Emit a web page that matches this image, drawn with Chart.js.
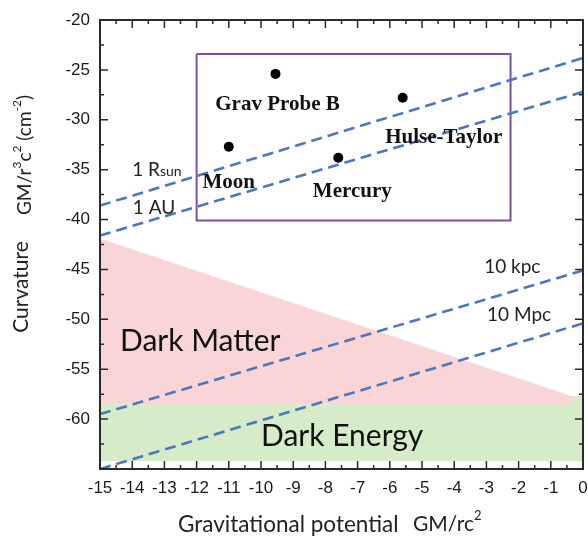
<!DOCTYPE html>
<html>
<head>
<meta charset="utf-8">
<script src="https://cdn.jsdelivr.net/npm/chart.js@4/dist/chart.umd.min.js"></script>
<style>
  html, body { margin: 0; padding: 0; background: #ffffff; }
  #wrap { width: 588px; height: 540px; }
</style>
</head>
<body>
<div id="wrap"><canvas id="chart" width="588" height="540"></canvas></div>
<script>
// Axis ticks
const xTickValues = [-15, -14, -13, -12, -11, -10, -9, -8, -7, -6, -5, -4, -3, -2, -1, 0];
const yTickValues = [-20, -25, -30, -35, -40, -45, -50, -55, -60];

// Experimental tests: gravitational potential vs curvature
const probeNames = ['Grav Probe B', 'Moon', 'Mercury', 'Hulse-Taylor'];
const probePotential = [-9.55, -11.0, -7.6, -5.6];
const probeCurvature = [-25.4, -32.7, -33.8, -27.8];

// Constant-radius lines, curvature at potential -15 and at 0
const scaleNames = ['1 R', '1 AU', '10 kpc', '10 Mpc'];
const scaleCurvatureLeft = [-38.6, -41.6, -59.5, -65.0];
const scaleCurvatureRight = [-23.8, -27.2, -45.1, -50.4];

// Dark matter region: upper edge
const darkMatterPotential = [-15, -0.34, 0];
const darkMatterCurvature = [-41.9, -57.7, -57.7];

// Dark energy band
const darkEnergyPotential = [-15, -0.36, -0.34, 0];
const darkEnergyTop = [-58.5, -58.5, -57.7, -57.7];
const darkEnergyBottom = -64.2;

// Tested region box
const boxPotential = [-12, -2.25];
const boxCurvature = [-23.4, -40.1];

const pts = (xs, ys) => xs.map((x, i) => ({ x, y: ys[i] }));

const AXIS_COLOR = '#2b2b2b';
const DASH_COLOR = '#4a77bd';
const SANS = 'Lato, "Open Sans", sans-serif';
const ARIAL = '"Liberation Sans", Arial, sans-serif';

function drawRuns(ctx, runs, x, y, align) {
  // runs: [text, size, raise, weight, family]
  let total = 0;
  runs.forEach(r => { ctx.font = r[3] + r[1] + 'px ' + r[4]; total += ctx.measureText(r[0]).width; });
  let cx = align === 'center' ? x - total / 2 : x;
  ctx.textAlign = 'left';
  runs.forEach(r => {
    ctx.font = r[3] + r[1] + 'px ' + r[4];
    ctx.fillText(r[0], cx, y - r[2]);
    cx += ctx.measureText(r[0]).width;
  });
}

const decorPlugin = {
  id: 'decor',
  afterDatasetsDraw(chart) {
    const { ctx, chartArea: a, scales: { x, y } } = chart;
    ctx.save();

    // frame
    ctx.strokeStyle = AXIS_COLOR;
    ctx.lineWidth = 2;
    ctx.strokeRect(a.left, a.top, a.right - a.left, a.bottom - a.top);

    // inward ticks on all four sides
    ctx.lineWidth = 1.5;
    ctx.beginPath();
    for (let v = -15; v <= 0.001; v += 0.5) {
      const px = x.getPixelForValue(v);
      const len = Math.abs(v - Math.round(v)) < 0.01 ? 8 : 4;
      ctx.moveTo(px, a.bottom); ctx.lineTo(px, a.bottom - len);
      ctx.moveTo(px, a.top); ctx.lineTo(px, a.top + len);
    }
    for (let v = -65; v <= -19.99; v += 2.5) {
      const py = y.getPixelForValue(v);
      const len = Math.abs(v / 5 - Math.round(v / 5)) < 0.01 ? 8 : 4;
      ctx.moveTo(a.left, py); ctx.lineTo(a.left + len, py);
      ctx.moveTo(a.right, py); ctx.lineTo(a.right - len, py);
    }
    ctx.stroke();

    // probe labels
    ctx.fillStyle = '#111';
    ctx.textBaseline = 'middle';
    ctx.textAlign = 'center';
    ctx.font = 'bold 21px "Liberation Serif", "Times New Roman", serif';
    const labelOffsets = [[2, 31], [0, 36], [14, 34], [41, 40]];
    probeNames.forEach((n, i) => {
      const px = x.getPixelForValue(probePotential[i]);
      const py = y.getPixelForValue(probeCurvature[i]);
      ctx.fillText(n, px + labelOffsets[i][0], py + labelOffsets[i][1]);
    });

    // scale line labels
    ctx.fillStyle = '#222';
    ctx.textBaseline = 'middle';
    const lineLabelAt = [[-14.0, -35.0], [-13.98, -38.8], [-3.07, -44.7], [-2.98, -49.6]];
    scaleNames.forEach((n, i) => {
      const px = x.getPixelForValue(lineLabelAt[i][0]);
      const py = y.getPixelForValue(lineLabelAt[i][1]);
      if (i === 0) {
        drawRuns(ctx, [['1 R', 19, 0, '', SANS], ['sun', 14, -2, '', SANS]], px, py, 'left');
      } else {
        ctx.textAlign = 'left';
        ctx.font = '19px ' + SANS;
        ctx.fillText(n, px, py);
      }
    });

    // region labels
    ctx.fillStyle = '#111';
    ctx.textAlign = 'left';
    ctx.font = '30px ' + SANS;
    ctx.fillText('Dark Matter', x.getPixelForValue(-14.38), y.getPixelForValue(-52.2));
    ctx.fillText('Dark Energy', x.getPixelForValue(-10.0), y.getPixelForValue(-61.7));

    // axis titles
    ctx.fillStyle = '#222';
    ctx.textBaseline = 'middle';
    ctx.textAlign = 'left';
    ctx.font = '22.5px ' + SANS;
    ctx.fillText('Gravitational potential', 178, 525);
    drawRuns(ctx, [['GM/rc', 21, 0, '', SANS], ['2', 13, 8, '', SANS]], 413, 524, 'left');

    ctx.save();
    ctx.translate(21, 287);
    ctx.rotate(-Math.PI / 2);
    ctx.textAlign = 'center';
    ctx.font = '21px ' + SANS;
    ctx.fillText('Curvature', 0, 0);
    ctx.restore();

    ctx.save();
    ctx.translate(25, 155);
    ctx.rotate(-Math.PI / 2);
    drawRuns(ctx, [
      ['GM/r', 19, 0, '', SANS], ['3', 12, 8, '', SANS], ['c', 19, 0, '', SANS], ['2', 12, 8, '', SANS],
      [' (cm', 19, 0, '', SANS], ['-2', 12, 8, '', SANS], [')', 19, 0, '', SANS]
    ], 0, 0, 'center');
    ctx.restore();

    ctx.restore();
  }
};

const dashStyle = {
  type: 'line', showLine: true, pointRadius: 0, borderColor: DASH_COLOR,
  borderWidth: 2.6, borderDash: [11, 6], fill: false, order: 2
};

const datasets = [
  {
    type: 'line', label: 'Dark Matter', data: pts(darkMatterPotential, darkMatterCurvature),
    showLine: true, pointRadius: 0, borderWidth: 0, borderColor: 'rgba(0,0,0,0)',
    backgroundColor: 'rgb(250,213,216)', fill: { value: -58.5 }, order: 6
  },
  {
    type: 'line', label: 'Dark Energy', data: pts(darkEnergyPotential, darkEnergyTop),
    showLine: true, pointRadius: 0, borderWidth: 0, borderColor: 'rgba(0,0,0,0)',
    backgroundColor: 'rgb(214,236,200)', fill: { value: darkEnergyBottom }, order: 5
  },
  {
    type: 'line', label: 'Tests', showLine: true, pointRadius: 0, borderColor: '#7f4fa6', borderWidth: 2,
    data: pts([boxPotential[0], boxPotential[1], boxPotential[1], boxPotential[0], boxPotential[0]],
              [boxCurvature[0], boxCurvature[0], boxCurvature[1], boxCurvature[1], boxCurvature[0]]),
    fill: false, order: 3
  },
  ...scaleNames.map((n, i) => Object.assign({}, dashStyle, {
    label: n, data: pts([-15, 0], [scaleCurvatureLeft[i], scaleCurvatureRight[i]])
  })),
  {
    type: 'scatter', label: 'Probes', data: pts(probePotential, probeCurvature),
    pointRadius: 5, pointBackgroundColor: '#000', pointBorderWidth: 0, showLine: false, order: 1
  }
];

new Chart(document.getElementById('chart'), {
  type: 'scatter',
  data: { datasets },
  plugins: [decorPlugin],
  options: {
    responsive: false,
    animation: false,
    events: [],
    layout: { padding: { top: 20, right: 4, left: 0, bottom: 0 } },
    plugins: { legend: { display: false }, tooltip: { enabled: false } },
    scales: {
      x: {
        type: 'linear', min: -15, max: 0,
        grid: { display: false, drawTicks: false },
        border: { display: false },
        afterBuildTicks: s => { s.ticks = xTickValues.map(v => ({ value: v })); },
        afterFit: s => { s.height = 71; s.paddingLeft = 0; s.paddingRight = 0; },
        ticks: { padding: 9, color: '#1a1a1a', font: { family: ARIAL, size: 17 }, maxRotation: 0, autoSkip: false }
      },
      y: {
        type: 'linear', min: -65, max: -20,
        grid: { display: false, drawTicks: false },
        border: { display: false },
        afterBuildTicks: s => { s.ticks = yTickValues.map(v => ({ value: v })); },
        afterFit: s => { s.width = 100; s.paddingTop = 0; s.paddingBottom = 0; },
        ticks: { padding: 10, color: '#1a1a1a', font: { family: ARIAL, size: 17 } }
      }
    }
  }
});
</script>
</body>
</html>
